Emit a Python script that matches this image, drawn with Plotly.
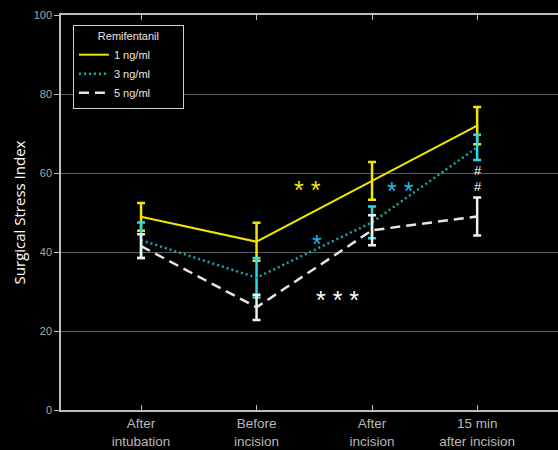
import plotly.graph_objects as go

# Time points and their positions on the horizontal axis
time_labels = ["After<br>intubation", "Before<br>incision", "After<br>incision", "15 min<br>after incision"]
x_pos = [1, 2, 3, 3.91]

# Surgical Stress Index (mean and error) per remifentanil concentration
ssi_1 = [48.9, 42.6, 58.0, 72.0]
err_1 = [3.5, 4.8, 4.8, 4.7]
ssi_3 = [43.0, 33.5, 47.5, 66.5]
err_3 = [4.5, 5.0, 4.0, 3.2]
ssi_5 = [41.5, 26.0, 45.5, 49.0]
err_5 = [3.0, 3.2, 3.8, 4.8]

y_ticks = [0, 20, 40, 60, 80, 100]
y_minor = [10, 30, 50, 70, 90]

FONT = "Liberation Sans, Arial, sans-serif"
AXIS = "#bdbdbd"
PAD = "\u00a0" * 9  # widens the legend box

fig = go.Figure()

fig.add_trace(go.Scatter(
    x=x_pos, y=ssi_1, name="1 ng/ml" + PAD, mode="lines",
    line=dict(color="#f2e600", width=2),
    error_y=dict(type="data", array=err_1, color="#f2e600", thickness=2.5, width=4),
))
fig.add_trace(go.Scatter(
    x=x_pos, y=ssi_3, name="3 ng/ml" + PAD, mode="lines",
    line=dict(color="#1ea8a8", width=2.5, dash="2px,3px"),
    error_y=dict(type="data", array=err_3, color="#2fd8e6", thickness=2.5, width=4),
))
fig.add_trace(go.Scatter(
    x=x_pos, y=ssi_5, name="5 ng/ml" + PAD, mode="lines",
    line=dict(color="#e6e6e6", width=2.5, dash="10px,6px"),
    error_y=dict(type="data", array=err_5, color="#f0f0f0", thickness=2.5, width=4),
))

# Significance markers
marks = [
    (2.44, 57.2, "* *", "#f2e600"),
    (2.52, 43.5, "*", "#29b6e8"),
    (2.70, 29.4, "* * *", "#ffffff"),
    (3.25, 57.0, "* *", "#29b6e8"),
]
for mx, my, mt, mc in marks:
    fig.add_annotation(x=mx, y=my, text=mt, showarrow=False, yshift=-6,
                       font=dict(family=FONT, size=25, color=mc))
for hy in (60.7, 56.6):
    fig.add_annotation(x=3.92, y=hy, text="#", showarrow=False,
                       font=dict(family=FONT, size=13, color="#ffffff"))

minor_axis = dict(
    overlaying="y", range=[0, 100], tickmode="array", tickvals=y_minor,
    ticks="inside", ticklen=5, tickcolor=AXIS, tickwidth=1,
    showticklabels=False, showgrid=False, zeroline=False, showline=False,
)

fig.update_layout(
    width=558, height=450,
    margin=dict(l=61, r=0, t=15, b=40, autoexpand=False),
    paper_bgcolor="black", plot_bgcolor="black",
    font=dict(family=FONT, color="#cccccc"),
    showlegend=True,
    legend=dict(
        x=0.024, y=0.975, xanchor="left", yanchor="top",
        bgcolor="black", bordercolor="#cfcfcf", borderwidth=1,
        font=dict(size=11, color="#e6e6e6", family=FONT),
        title=dict(text="Remifentanil", side="top center",
                   font=dict(size=11, color="#e6e6e6", family=FONT)),
        itemwidth=30, tracegroupgap=2,
    ),
    xaxis=dict(
        range=[0.307, 4.61], tickmode="array", tickvals=x_pos, ticktext=time_labels,
        showgrid=False, zeroline=False, automargin=False,
        showline=True, linecolor=AXIS, linewidth=1.5, mirror="ticks",
        ticks="inside", ticklen=5, tickcolor=AXIS,
        tickfont=dict(size=13.5, color="#b8b8b8"),
    ),
    yaxis=dict(
        range=[0, 100], tickmode="array", tickvals=y_ticks,
        showgrid=True, gridcolor="#5e5e5e", gridwidth=1.2, zeroline=False, automargin=False,
        showline=True, linecolor=AXIS, linewidth=1.5, mirror=False,
        ticks="outside", ticklen=5, tickcolor=AXIS,
        tickfont=dict(size=11, color="#a8a8a8"),
        title=dict(text="Surgical Stress Index", standoff=4,
                   font=dict(size=15, color="#ffffff", family="Open Sans, sans-serif")),
    ),
    yaxis2=dict(side="left", anchor="x", **minor_axis),
    yaxis3=dict(side="right", anchor="x", **minor_axis),
)

fig.write_html("out.html")
